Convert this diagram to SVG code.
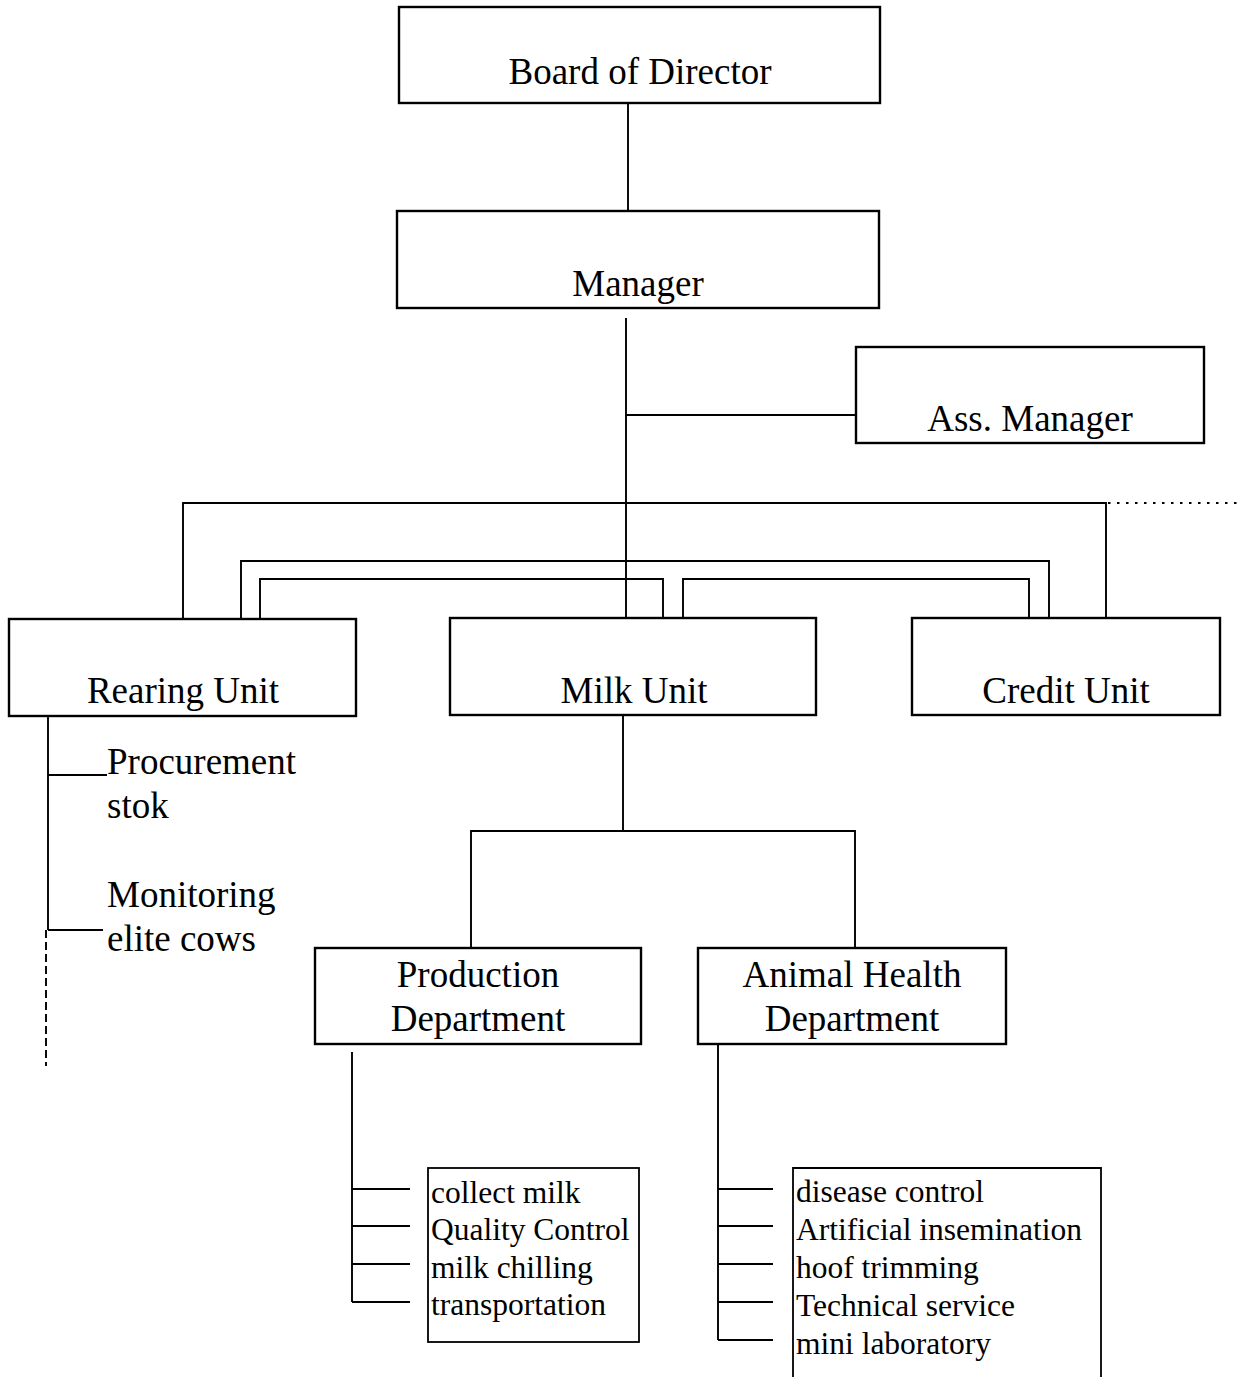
<svg xmlns="http://www.w3.org/2000/svg" width="1242" height="1377" viewBox="0 0 1242 1377">
  <style>
    .box { fill: #fff; stroke: #000; stroke-width: 2.4; }
    .list { fill: #fff; stroke: #000; stroke-width: 1.8; }
    .t { font-family: "Liberation Serif", "Times New Roman", serif; font-size: 37px; fill: #000; }
    .tc { text-anchor: middle; }
    .s { font-family: "Liberation Serif", "Times New Roman", serif; font-size: 31.5px; fill: #000; }
    #connectors line, #connectors path { stroke: #000; stroke-width: 1.9; fill: none; }
    #connectors .dash { stroke-dasharray: 8 4; }
    #connectors .dot { stroke-dasharray: 2.5 6.5; stroke-width: 2.2; }
  </style>
  <rect width="1242" height="1377" fill="#fff"/>

  <!-- connectors -->
  <g id="connectors">
    <line x1="628" y1="103" x2="628" y2="211"/>
    <line x1="626" y1="318" x2="626" y2="628"/>
    <line x1="626" y1="415" x2="856" y2="415"/>
    <!-- nested brackets tying the three units together -->
    <path d="M183 619 V503 H1106 V618"/>
    <line class="dot" x1="1108" y1="503" x2="1242" y2="503"/>
    <path d="M241 619 V561 H1049 V618"/>
    <path d="M260 619 V579 H663 V618"/>
    <path d="M683 618 V579 H1029 V618"/>
    <!-- milk unit split -->
    <line x1="623" y1="715" x2="623" y2="831"/>
    <path d="M471 948 V831 H855 V948"/>
    <!-- rearing unit tasks -->
    <line x1="48" y1="716" x2="48" y2="930"/>
    <line class="dash" x1="46" y1="930" x2="46" y2="1066"/>
    <line x1="48" y1="775" x2="107" y2="775"/>
    <line x1="48" y1="930" x2="103" y2="930"/>
    <!-- production department tasks -->
    <line x1="352" y1="1052" x2="352" y2="1302"/>
    <line x1="352" y1="1189" x2="410" y2="1189"/>
    <line x1="352" y1="1226" x2="410" y2="1226"/>
    <line x1="352" y1="1264" x2="410" y2="1264"/>
    <line x1="352" y1="1302" x2="410" y2="1302"/>
    <!-- animal health department tasks -->
    <line x1="718" y1="1044" x2="718" y2="1340"/>
    <line x1="718" y1="1189" x2="773" y2="1189"/>
    <line x1="718" y1="1226" x2="773" y2="1226"/>
    <line x1="718" y1="1264" x2="773" y2="1264"/>
    <line x1="718" y1="1302" x2="773" y2="1302"/>
    <line x1="718" y1="1340" x2="773" y2="1340"/>
  </g>

  <g id="board">
    <rect class="box" x="399" y="7" width="481" height="96"/>
    <text class="t tc" x="640" y="84">Board of Director</text>
  </g>

  <g id="manager">
    <rect class="box" x="397" y="211" width="482" height="97"/>
    <text class="t tc" x="638" y="296">Manager</text>
  </g>

  <g id="ass-manager">
    <rect class="box" x="856" y="347" width="348" height="96"/>
    <text class="t tc" x="1030" y="431">Ass. Manager</text>
  </g>

  <g id="rearing-unit">
    <rect class="box" x="9" y="619" width="347" height="97"/>
    <text class="t tc" x="183" y="703">Rearing Unit</text>
  </g>

  <g id="milk-unit">
    <rect class="box" x="450" y="618" width="366" height="97"/>
    <text class="t tc" x="634" y="703">Milk Unit</text>
  </g>

  <g id="credit-unit">
    <rect class="box" x="912" y="618" width="308" height="97"/>
    <text class="t tc" x="1066" y="703">Credit Unit</text>
  </g>

  <g id="rearing-tasks">
    <text class="t" x="107" y="774">Procurement</text>
    <text class="t" x="107" y="818">stok</text>
    <text class="t" x="107" y="907">Monitoring</text>
    <text class="t" x="107" y="951">elite cows</text>
  </g>

  <g id="production-dept">
    <rect class="box" x="315" y="948" width="326" height="96"/>
    <text class="t tc" x="478" y="987">Production</text>
    <text class="t tc" x="478" y="1031">Department</text>
  </g>

  <g id="animal-health-dept">
    <rect class="box" x="698" y="948" width="308" height="96"/>
    <text class="t tc" x="852" y="987">Animal Health</text>
    <text class="t tc" x="852" y="1031">Department</text>
  </g>

  <g id="production-tasks">
    <rect class="list" x="428" y="1168" width="211" height="174"/>
    <text class="s" x="431" y="1203">collect milk</text>
    <text class="s" x="431" y="1240">Quality Control</text>
    <text class="s" x="431" y="1278">milk chilling</text>
    <text class="s" x="431" y="1315">transportation</text>
  </g>

  <g id="animal-health-tasks">
    <path class="list" d="M793 1380 V1168 H1101 V1380"/>
    <text class="s" x="796" y="1202">disease control</text>
    <text class="s" x="796" y="1240">Artificial insemination</text>
    <text class="s" x="796" y="1278">hoof trimming</text>
    <text class="s" x="796" y="1316">Technical service</text>
    <text class="s" x="796" y="1354">mini laboratory</text>
  </g>
</svg>
